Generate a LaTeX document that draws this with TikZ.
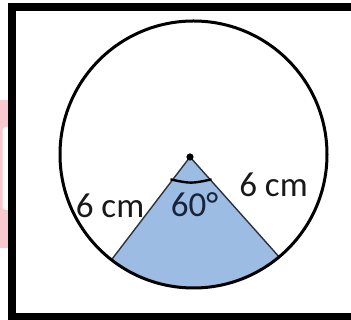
\documentclass[tikz,border=0pt]{standalone}
\usepackage{fontspec}
\setmainfont{Carlito}
\usetikzlibrary{calc}
\definecolor{sectorblue}{RGB}{157,188,228}
\definecolor{pinkmark}{RGB}{248,202,208}
\definecolor{navytext}{RGB}{25,36,58}
\definecolor{labelgray}{RGB}{25,25,25}
\definecolor{edgegray}{RGB}{45,50,60}
\begin{document}
\begin{tikzpicture}[x=1pt,y=1pt,
  lbl/.style={font=\fontsize{35}{42}\selectfont, inner sep=0pt, anchor=base, text=labelgray},
  edgeline/.style={draw=edgegray, line width=1.4pt},
  rim/.style={draw=black, line width=3pt},
  anglemark/.style={draw=black, line width=2.4pt},
  frameline/.style={draw=black, line width=8pt}]
\useasboundingbox (0,0) rectangle (351,320);
\clip (0,0) rectangle (351,320);
\fill[white] (0,0) rectangle (351,320);
% watermark strip
\fill[pinkmark] (0,72) rectangle (10,220);
\fill[white, rounded corners=3pt] (2.7,110) rectangle (12,193);
% frame
\draw[frameline] (12,313) rectangle (362,3);
% geometry
\coordinate (O) at (193.5,165.5);
\coordinate (A) at (190,163);
\coordinate (L) at ($(O)+(232.1:133.5)$);
\coordinate (R) at ($(O)+(309.9:133.5)$);
\fill[sectorblue] (A) -- (L) arc[start angle=232.1, end angle=309.9, radius=133.5] -- cycle;
\draw[edgeline] (A) -- (L);
\draw[edgeline] (A) -- (R);
\draw[rim] (O) circle[radius=133.5];
% angle mark
\coordinate (M1) at (170.5,140.6);
\coordinate (M2) at (211.5,140.6);
\coordinate (MC) at (191,136.3);
\draw[anglemark] (M1) .. controls (MC) .. (M2);
\fill[black] (A) circle[radius=3.6];
% labels
\node[lbl] (leftlbl) at (110,102.5) {6 cm};
\node[lbl] (rightlbl) at (273.5,123) {6 cm};
\node[lbl, text=navytext] (anglbl) at (194.5,103) {60°};
\end{tikzpicture}
\end{document}
